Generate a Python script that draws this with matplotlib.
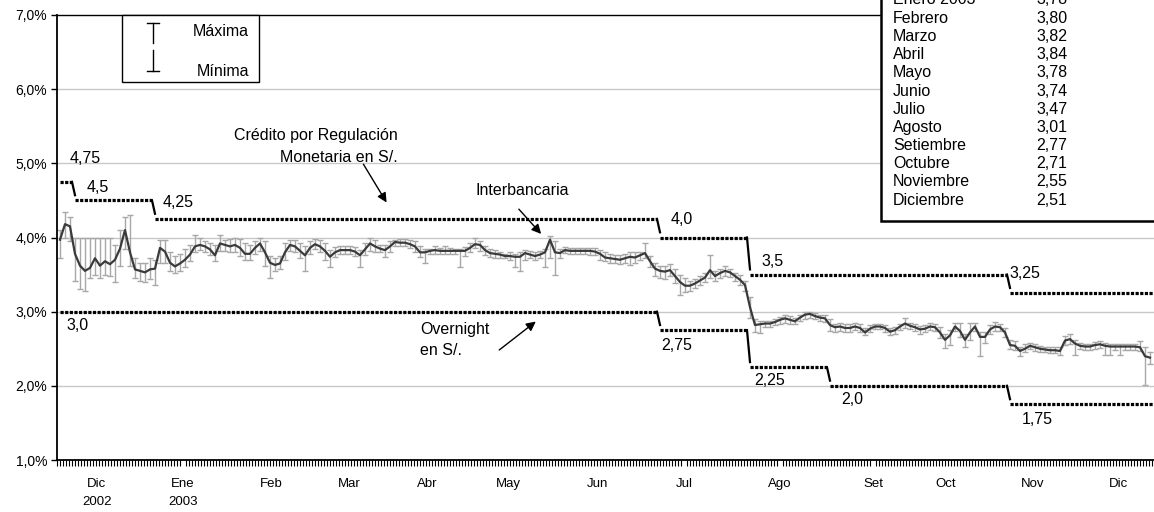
import numpy as np
import matplotlib.pyplot as plt
from matplotlib.ticker import FixedLocator, MultipleLocator, FuncFormatter
from matplotlib.patches import Rectangle
from matplotlib.lines import Line2D

plt.rcParams['font.family'] = ['Liberation Sans', 'DejaVu Sans']

# ── Tasa interbancaria diaria (promedio, máxima, mínima) ──
interbank = [
    3.97, 4.18, 4.15, 3.78, 3.62, 3.55, 3.59, 3.72, 3.62, 3.68,
    3.64, 3.70, 3.85, 4.10, 3.80, 3.57, 3.55, 3.53, 3.57, 3.58,
    3.86, 3.81, 3.66, 3.61, 3.65, 3.70, 3.77, 3.88, 3.90, 3.88,
    3.84, 3.76, 3.92, 3.90, 3.88, 3.90, 3.86, 3.78, 3.78, 3.86,
    3.92, 3.80, 3.66, 3.63, 3.65, 3.80, 3.90, 3.88, 3.82, 3.76,
    3.86, 3.91, 3.88, 3.82, 3.74, 3.80, 3.83, 3.83, 3.83, 3.81,
    3.76, 3.84, 3.92, 3.88, 3.85, 3.83, 3.88, 3.94, 3.93, 3.93,
    3.91, 3.88, 3.80, 3.80, 3.82, 3.83, 3.82, 3.82, 3.82, 3.82,
    3.82, 3.82, 3.86, 3.91, 3.90, 3.83, 3.79, 3.78, 3.77, 3.75,
    3.75, 3.74, 3.74, 3.79, 3.77, 3.75, 3.77, 3.80, 3.97, 3.80,
    3.79, 3.83, 3.82, 3.82, 3.82, 3.82, 3.82, 3.81, 3.78, 3.73,
    3.72, 3.71, 3.70, 3.72, 3.74, 3.73, 3.76, 3.79, 3.68, 3.58,
    3.55, 3.54, 3.56, 3.48, 3.40, 3.35, 3.35, 3.38, 3.42, 3.46,
    3.56, 3.48, 3.52, 3.55, 3.53, 3.48, 3.43, 3.36, 3.06, 2.82,
    2.83, 2.84, 2.84, 2.86, 2.89, 2.91, 2.89, 2.87, 2.92, 2.96,
    2.97, 2.94, 2.92, 2.91, 2.82, 2.79, 2.80, 2.78, 2.78, 2.80,
    2.78, 2.72, 2.77, 2.80, 2.80, 2.78, 2.73, 2.75, 2.80, 2.84,
    2.81, 2.79, 2.76, 2.77, 2.80, 2.79, 2.72, 2.62, 2.68, 2.80,
    2.74, 2.62, 2.72, 2.80, 2.66, 2.66, 2.76, 2.80, 2.79, 2.72,
    2.55, 2.54, 2.47, 2.50, 2.54, 2.52, 2.50, 2.49, 2.48, 2.48,
    2.47, 2.61, 2.63, 2.57, 2.54, 2.53, 2.53, 2.55, 2.56, 2.54,
    2.53, 2.53, 2.53, 2.53, 2.53, 2.53, 2.52, 2.40, 2.38,
]
interbank_max = [
    4.10, 4.35, 4.27, 4.00, 4.00, 4.00, 4.00, 4.00, 4.00, 4.00,
    4.00, 3.90, 4.10, 4.28, 4.30, 3.72, 3.65, 3.65, 3.72, 3.70,
    3.97, 3.97, 3.80, 3.75, 3.78, 3.85, 3.90, 4.03, 4.00, 3.95,
    3.92, 3.90, 4.03, 3.97, 3.98, 4.00, 3.98, 3.92, 3.90, 3.95,
    4.00, 3.95, 3.75, 3.72, 3.75, 3.92, 3.97, 3.97, 3.92, 3.88,
    3.95, 3.98, 3.96, 3.92, 3.83, 3.87, 3.88, 3.88, 3.88, 3.87,
    3.83, 3.92, 4.00, 3.96, 3.90, 3.90, 3.95, 3.97, 3.98, 3.98,
    3.97, 3.95, 3.88, 3.85, 3.85, 3.88, 3.86, 3.88, 3.86, 3.85,
    3.85, 3.87, 3.92, 4.00, 3.95, 3.88, 3.84, 3.83, 3.80, 3.78,
    3.80, 3.78, 3.80, 3.83, 3.82, 3.80, 3.82, 3.85, 4.02, 3.95,
    3.85, 3.87, 3.86, 3.86, 3.86, 3.86, 3.86, 3.86, 3.83, 3.80,
    3.78, 3.77, 3.77, 3.78, 3.80, 3.80, 3.80, 3.92, 3.75, 3.65,
    3.62, 3.62, 3.64, 3.58, 3.50, 3.45, 3.42, 3.44, 3.48, 3.52,
    3.76, 3.55, 3.58, 3.62, 3.58, 3.52, 3.50, 3.42, 3.20, 2.90,
    2.88, 2.88, 2.88, 2.90, 2.93, 2.96, 2.94, 2.91, 2.96, 3.00,
    3.00, 2.98, 2.96, 2.95, 2.90, 2.84, 2.85, 2.83, 2.83, 2.85,
    2.83, 2.78, 2.82, 2.84, 2.84, 2.82, 2.78, 2.80, 2.84, 2.91,
    2.85, 2.84, 2.81, 2.82, 2.85, 2.84, 2.80, 2.70, 2.75, 2.85,
    2.85, 2.70, 2.85, 2.85, 2.72, 2.72, 2.82, 2.86, 2.84, 2.78,
    2.62, 2.60, 2.53, 2.56, 2.58, 2.56, 2.54, 2.53, 2.52, 2.52,
    2.52, 2.67, 2.70, 2.62, 2.58, 2.57, 2.57, 2.59, 2.60, 2.58,
    2.57, 2.57, 2.57, 2.57, 2.57, 2.57, 2.61, 2.52, 2.45,
]
interbank_min = [
    3.72, 4.00, 3.95, 3.42, 3.30, 3.28, 3.45, 3.50, 3.45, 3.50,
    3.48, 3.40, 3.62, 3.85, 3.62, 3.45, 3.42, 3.40, 3.44, 3.36,
    3.66, 3.65, 3.55, 3.52, 3.55, 3.60, 3.68, 3.80, 3.83, 3.80,
    3.76, 3.68, 3.82, 3.82, 3.80, 3.80, 3.75, 3.70, 3.70, 3.78,
    3.82, 3.62, 3.45, 3.55, 3.58, 3.70, 3.82, 3.80, 3.72, 3.55,
    3.78, 3.85, 3.80, 3.70, 3.60, 3.74, 3.78, 3.78, 3.78, 3.75,
    3.60, 3.76, 3.82, 3.80, 3.80, 3.74, 3.80, 3.88, 3.88, 3.88,
    3.86, 3.80, 3.74, 3.65, 3.78, 3.78, 3.78, 3.78, 3.78, 3.78,
    3.60, 3.75, 3.80, 3.86, 3.82, 3.76, 3.74, 3.73, 3.72, 3.72,
    3.70, 3.60, 3.55, 3.70, 3.72, 3.70, 3.72, 3.60, 3.72, 3.50,
    3.72, 3.79, 3.78, 3.78, 3.78, 3.78, 3.76, 3.76, 3.70, 3.68,
    3.66, 3.66, 3.64, 3.66, 3.63, 3.66, 3.70, 3.72, 3.60, 3.48,
    3.45, 3.44, 3.48, 3.38, 3.22, 3.26, 3.28, 3.32, 3.36, 3.40,
    3.45, 3.42, 3.46, 3.48, 3.47, 3.42, 3.36, 3.28, 2.92, 2.72,
    2.71, 2.80, 2.80, 2.82, 2.84, 2.85, 2.84, 2.83, 2.87, 2.90,
    2.92, 2.90, 2.87, 2.86, 2.74, 2.73, 2.74, 2.72, 2.73, 2.75,
    2.73, 2.68, 2.72, 2.76, 2.76, 2.73, 2.68, 2.70, 2.75, 2.78,
    2.76, 2.74, 2.70, 2.72, 2.75, 2.74, 2.65, 2.51, 2.55, 2.74,
    2.66, 2.53, 2.62, 2.74, 2.40, 2.58, 2.70, 2.74, 2.74, 2.66,
    2.50, 2.48, 2.40, 2.45, 2.49, 2.47, 2.46, 2.45, 2.44, 2.44,
    2.42, 2.55, 2.57, 2.42, 2.49, 2.48, 2.48, 2.50, 2.51, 2.42,
    2.42, 2.48, 2.42, 2.48, 2.48, 2.48, 2.47, 2.01, 2.30,
]

# ── Tasas de referencia (inicio de cada tramo, en días) ──
credito_start = [0, 3, 19, 120, 138, 190]
credito_rate = [4.75, 4.5, 4.25, 4.0, 3.5, 3.25]
overnight_start = [0, 120, 138, 154, 190]
overnight_rate = [3.0, 2.75, 2.25, 2.0, 1.75]

# ── Eje x ──
month_pos = [7.4, 24.6, 42.2, 57.8, 73.4, 89.6, 107.6, 124.8, 144, 162.6, 177.2, 194.6, 211.6]
month_labels = ["Dic\n2002", "Ene\n2003", "Feb", "Mar", "Abr", "May", "Jun",
                "Jul", "Ago", "Set", "Oct", "Nov", "Dic"]

# ── Cuadro de promedios mensuales ──
table_months = ["Enero 2003", "Febrero", "Marzo", "Abril", "Mayo", "Junio", "Julio",
                "Agosto", "Setiembre", "Octubre", "Noviembre", "Diciembre"]
table_vals = ["3,78", "3,80", "3,82", "3,84", "3,78", "3,74", "3,47",
              "3,01", "2,77", "2,71", "2,55", "2,51"]

W, H = 1154, 512
fig = plt.figure(figsize=(W / 100, H / 100), dpi=100)
ax = fig.add_axes([57 / W, 1 - 460 / H, 1 - 57 / W, (460 - 15) / H])

x = np.arange(len(interbank))
xmax = 218.8
ax.set_xlim(-0.6, xmax)
ax.set_ylim(1.0, 7.0)

# grid
for v in range(2, 7):
    ax.axhline(v, color="#c8c8c8", lw=1.0, zorder=0)

mean = np.array(interbank)
hi = np.array(interbank_max)
lo = np.array(interbank_min)
ax.errorbar(x, mean, yerr=[mean - lo, hi - mean], fmt="none", ecolor="#a8a8a8",
            elinewidth=1.0, capsize=2.5, capthick=1.0, zorder=2)
ax.plot(x, mean, color="#3a3a3a", lw=1.6, zorder=3)


def steps(starts, rates):
    ends = [s - 0.6 for s in starts[1:]] + [xmax]
    for i, (s, e, r) in enumerate(zip(starts, ends, rates)):
        ax.plot([s, e], [r, r], color="black", lw=2.3, dashes=(1.0, 0.45),
                solid_capstyle="butt", zorder=4)
        if i + 1 < len(rates):
            nxt = rates[i + 1]
            ax.plot([e, starts[i + 1]], [r, nxt + 0.07 * np.sign(r - nxt)],
                    color="black", lw=1.6, zorder=4)


steps(credito_start, credito_rate)
steps(overnight_start, overnight_rate)

lab_fs = 11.5
rate_labels = [(5.0, 5.07, "4,75"), (7.6, 4.67, "4,5"), (23.6, 4.47, "4,25"),
               (124.4, 4.24, "4,0"), (142.6, 3.67, "3,5"), (193.0, 3.51, "3,25"),
               (3.6, 2.82, "3,0"), (123.4, 2.54, "2,75"), (142.0, 2.07, "2,25"),
               (158.4, 1.81, "2,0"), (195.4, 1.54, "1,75")]
for xx, yy, t in rate_labels:
    ax.text(xx, yy, t, fontsize=lab_fs, ha="center", va="center", zorder=5)

# annotations
ax.text(67.6, 5.23, "Crédito por Regulación\nMonetaria en S/.", fontsize=lab_fs,
        ha="right", va="center", linespacing=1.55)
ax.annotate("", xy=(65.6, 4.44), xytext=(60.4, 5.02),
            arrowprops=dict(arrowstyle="-|>", color="black", lw=1.0, mutation_scale=14))
ax.text(92.4, 4.63, "Interbancaria", fontsize=lab_fs, ha="center", va="center")
ax.annotate("", xy=(96.6, 4.02), xytext=(91.4, 4.41),
            arrowprops=dict(arrowstyle="-|>", color="black", lw=1.0, mutation_scale=14))
ax.text(72.0, 2.62, "Overnight\nen S/.", fontsize=lab_fs, ha="left", va="center",
        linespacing=1.45)
ax.annotate("", xy=(95.6, 2.89), xytext=(87.4, 2.46),
            arrowprops=dict(arrowstyle="-|>", color="black", lw=1.0, mutation_scale=14))

# axes styling
for s in ["top", "right"]:
    ax.spines[s].set_visible(False)
ax.spines["left"].set_linewidth(1.3)
ax.spines["bottom"].set_linewidth(1.3)
ax.plot([0, 1], [1, 1], transform=ax.transAxes, color="black", lw=1.0, clip_on=False)

ax.yaxis.set_major_locator(FixedLocator([1, 2, 3, 4, 5, 6, 7]))
ax.yaxis.set_major_formatter(FuncFormatter(lambda v, p: f"{v:.1f}%".replace(".", ",")))
ax.tick_params(axis="y", length=4, width=1, labelsize=10, pad=3)

ax.xaxis.set_major_locator(FixedLocator(month_pos))
ax.set_xticklabels(month_labels, fontsize=9.5, linespacing=1.7)
ax.xaxis.set_minor_locator(MultipleLocator(0.6))
ax.tick_params(axis="x", which="major", length=0, pad=13)
ax.tick_params(axis="x", which="minor", length=4, width=0.8, direction="out")


def fx(px):
    return px / W


def fy(py):
    return 1 - py / H


# legend box (Máxima / Mínima)
fig.patches.append(Rectangle((fx(122), fy(82)), fx(259) - fx(122), fy(15) - fy(82),
                             transform=fig.transFigure, facecolor="white",
                             edgecolor="black", lw=1.0, zorder=6))
for seg in [((147, 23), (159, 23)), ((153, 23), (153, 43)),
            ((153, 50), (153, 71)), ((147, 71), (159, 71))]:
    (x0, y0), (x1, y1) = seg
    fig.lines.append(Line2D([fx(x0), fx(x1)], [fy(y0), fy(y1)], transform=fig.transFigure,
                            color="black", lw=1.0, zorder=7))
fig.text(fx(249), fy(32), "Máxima", fontsize=lab_fs, ha="right", va="center", zorder=7)
fig.text(fx(249), fy(72), "Mínima", fontsize=lab_fs, ha="right", va="center", zorder=7)

# monthly averages table box
fig.patches.append(Rectangle((fx(881), fy(221)), fx(1160) - fx(881), fy(-40) - fy(221),
                             transform=fig.transFigure, facecolor="white",
                             edgecolor="black", lw=1.8, zorder=6))
for i, (m, v) in enumerate(zip(table_months, table_vals)):
    yy = 0 + i * 18.2
    fig.text(fx(893), fy(yy), m, fontsize=lab_fs, ha="left", va="center", zorder=7)
    fig.text(fx(1036), fy(yy), v, fontsize=lab_fs, ha="left", va="center", zorder=7)

fig.savefig("out.png", dpi=100, facecolor="white")
